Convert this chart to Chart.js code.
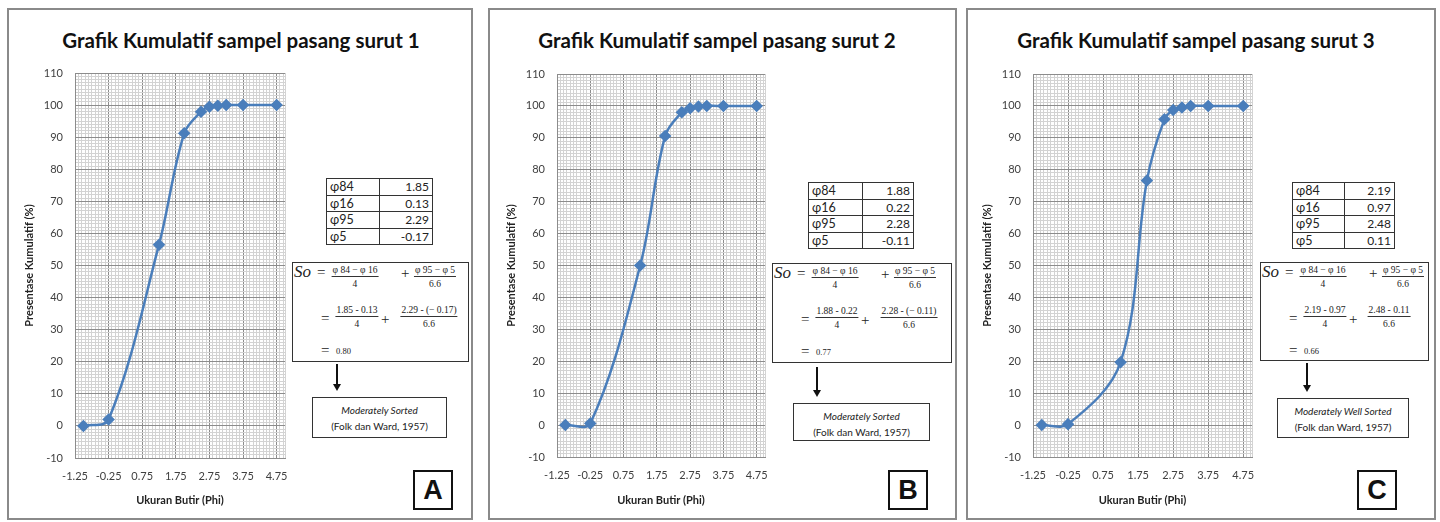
<!DOCTYPE html>
<html>
<head>
<meta charset="utf-8">
<script src="https://cdn.jsdelivr.net/npm/chart.js@4.4.0/dist/chart.umd.min.js"></script>
<style>
  body { margin:0; width:1440px; height:522px; background:#fff; position:relative; overflow:hidden;
         font-family: Lato, "Open Sans", sans-serif; color:#222; }
  .abs { position:absolute; white-space:nowrap; }
  .panel { position:absolute; border:2px solid #8a8a8a; box-sizing:border-box; }
  .title { position:absolute; font-weight:bold; font-size:20.5px; transform:translate(-50%,-50%); white-space:nowrap; color:#111; }
  table.phi { position:absolute; border-collapse:collapse; table-layout:fixed; font-size:12.5px; color:#222; }
  table.phi td { border:1.5px solid #333; padding:0 3px; line-height:15.5px; height:15.5px; }
  table.phi td.v { text-align:right; font-size:12px; }
  .fbox { position:absolute; border:1.5px solid #333; box-sizing:border-box; font-family:"Liberation Serif", serif; color:#222; }
  .frac { position:absolute; transform:translateX(-50%); text-align:center; font:9.5px/10px "Liberation Serif", serif; white-space:nowrap; }
  .frac .n { border-bottom:1px solid #333; padding:0 1px 1px; }
  .frac .d { padding-top:2px; }
  .sbox { position:absolute; border:1.5px solid #333; box-sizing:border-box; text-align:center; font-size:10px; line-height:16px; padding-top:4px; color:#222; }
  .letter { position:absolute; width:40px; height:40px; border:2px solid #111; box-sizing:border-box; text-align:center;
            font:bold 27px/36px "Liberation Sans", Arial, sans-serif; color:#111; }
</style>
</head>
<body>
<script>
// ---- data ----
const chartTitles = ['Grafik Kumulatif sampel pasang surut 1', 'Grafik Kumulatif sampel pasang surut 2', 'Grafik Kumulatif sampel pasang surut 3'];
const panelLetters = ['A', 'B', 'C'];
const xAxisTitle = 'Ukuran Butir (Phi)';
const yAxisTitle = 'Presentase Kumulatif (%)';

// grain size (phi) and cumulative percentage per sample
const phi  = [-1.0, -0.25, 1.25, 2.0, 2.5, 2.75, 3.0, 3.25, 3.75, 4.75];
const cumA = [0, 2.0, 56.5, 91.2, 97.9, 99.5, 99.8, 100, 100, 100];
const cumB = [0, 0.5, 50.0, 90.6, 98.0, 99.3, 99.8, 100, 100, 100];
const cumC = [0, 0.3, 19.7, 76.6, 95.8, 98.7, 99.5, 100, 100, 100];

const xMin = -1.25, xMax = 5.0;
const yMin = -10, yMax = 110;
const xTickLabels = ['-1.25', '-0.25', '0.75', '1.75', '2.75', '3.75', '4.75'];
const yTickLabels = ['-10', '0', '10', '20', '30', '40', '50', '60', '70', '80', '90', '100', '110'];

// percentile table + sorting result
const phiNames = ['φ84', 'φ16', 'φ95', 'φ5'];
const phiA = [1.85, 0.13, 2.29, -0.17];
const phiB = [1.88, 0.22, 2.28, -0.11];
const phiC = [2.19, 0.97, 2.48, 0.11];
const soValues = ['0.80', '0.77', '0.66'];
const sortClass = ['Moderately Sorted', 'Moderately Sorted', 'Moderately Well Sorted'];
const sortRef = '(Folk dan Ward, 1957)';

// ---- layout ----
const FONT = 'Lato, "Open Sans", sans-serif';
const MAJOR = '#8c8c8c', MINOR = '#d3d3d3', LINE = '#4a7ebb';

const panels = [
  { border: { l: 7, t: 8, r: 473, b: 520 }, titleX: 241,
    plot: { l: 75, r: 285, t: 73, b: 458 },
    table: { l: 326, t: 178, w: 107, c1: 53 },
    fbox: { l: 292, t: 262, w: 177, h: 100 },
    arrow: { x: 337, t: 364, b: 391 },
    sbox: { l: 312, t: 397, w: 135, h: 41 },
    letter: { l: 413, t: 470 } },
  { border: { l: 488, t: 8, r: 957, b: 520 }, titleX: 717,
    plot: { l: 557, r: 765, t: 74, b: 457 },
    table: { l: 808, t: 182, w: 106, c1: 54 },
    fbox: { l: 772, t: 263, w: 180, h: 100 },
    arrow: { x: 817, t: 367, b: 397 },
    sbox: { l: 793, t: 403, w: 137, h: 38 },
    letter: { l: 888, t: 470 } },
  { border: { l: 966, t: 8, r: 1436, b: 520 }, titleX: 1196,
    plot: { l: 1033, r: 1252, t: 74, b: 457 },
    table: { l: 1292, t: 182, w: 103, c1: 52 },
    fbox: { l: 1260, t: 262, w: 169, h: 99 },
    arrow: { x: 1307, t: 363, b: 392 },
    sbox: { l: 1277, t: 398, w: 132, h: 40 },
    letter: { l: 1357, t: 470 } },
];

// tick positions: labelled majors every 1 phi / 10 %, unlabelled minors between
const xTicks = [];
for (let i = 0; i * 0.1 <= xMax - xMin + 1e-9; i++) xTicks.push({ value: xMin + i * 0.1, major: i % 10 === 0, label: i % 10 === 0 ? xTickLabels[i / 10] : '' });
xTicks.push({ value: xMax, major: false, label: '' });
const yTicks = [];
for (let v = yMin; v <= yMax; v++) yTicks.push({ value: v, major: (v - yMin) % 10 === 0, label: (v - yMin) % 10 === 0 ? yTickLabels[(v - yMin) / 10] : '' });

function div(cls, css, text) {
  const d = document.createElement('div');
  d.className = cls;
  d.style.cssText = css;
  if (text != null) d.textContent = text;
  return d;
}

function drawChart(p, cum) {
  const padL = 65, padR = 10, top = 60, height = 452;
  const w = p.plot.r - p.plot.l + padL + padR;
  const canvas = document.createElement('canvas');
  canvas.width = w; canvas.height = height;
  canvas.style.cssText = `position:absolute;left:${p.plot.l - padL}px;top:${top}px;width:${w}px;height:${height}px`;
  document.body.appendChild(canvas);

  new Chart(canvas, {
    type: 'line',
    data: {
      datasets: [{
        data: phi.map((x, i) => ({ x, y: cum[i] })),
        borderColor: LINE, backgroundColor: LINE, borderWidth: 2.5,
        tension: 0.35, pointStyle: 'rectRot', pointRadius: 4.5,
        pointBackgroundColor: LINE, pointBorderColor: LINE,
      }],
    },
    options: {
      responsive: false, animation: false, devicePixelRatio: 1,
      layout: { padding: { top: p.plot.t - top, right: padR, left: 0, bottom: 0 } },
      plugins: { legend: { display: false }, tooltip: { enabled: false } },
      scales: {
        x: {
          type: 'linear', min: xMin, max: xMax,
          afterBuildTicks: (s) => { s.ticks = xTicks.map((t) => ({ value: t.value })); },
          afterFit: (s) => { s.height = top + height - p.plot.b; s.paddingLeft = 0; s.paddingRight = 0; },
          grid: { color: (c) => (xTicks[c.index] && xTicks[c.index].major ? MAJOR : MINOR), drawTicks: false },
          border: { color: MAJOR },
          ticks: { autoSkip: false, maxRotation: 0, padding: 12, color: '#404040', font: { size: 11, family: FONT },
                   callback: (v, i) => xTicks[i].label },
          title: { display: true, text: xAxisTitle, color: '#222', font: { size: 11, weight: 'bold', family: FONT }, padding: { top: 0, bottom: 5 } },
        },
        y: {
          min: yMin, max: yMax,
          afterBuildTicks: (s) => { s.ticks = yTicks.map((t) => ({ value: t.value })); },
          afterFit: (s) => { s.width = padL; s.paddingTop = 0; s.paddingBottom = 0; },
          grid: { color: (c) => (yTicks[c.index] && yTicks[c.index].major ? MAJOR : MINOR), drawTicks: false },
          border: { color: MAJOR },
          ticks: { autoSkip: false, padding: 12, color: '#404040', font: { size: 11, family: FONT },
                   callback: (v, i) => yTicks[i].label },
          title: { display: true, text: yAxisTitle, color: '#222', font: { size: 11, weight: 'bold', family: FONT }, padding: { top: 13, bottom: 0 } },
        },
      },
    },
  });
}

function fmt(v) { return v.toFixed(2); }

function drawNotes(p, vals, k) {
  const b = p.border;
  document.body.appendChild(div('panel', `left:${b.l}px;top:${b.t}px;width:${b.r - b.l}px;height:${b.b - b.t}px`));
  document.body.appendChild(div('title', `left:${p.titleX}px;top:40px`, chartTitles[k]));

  // percentile table
  const tb = document.createElement('table');
  tb.className = 'phi';
  tb.style.cssText = `left:${p.table.l}px;top:${p.table.t}px;width:${p.table.w}px`;
  tb.innerHTML = `<colgroup><col style="width:${p.table.c1}px"><col></colgroup>` +
    phiNames.map((n, i) => `<tr><td>${n}</td><td class="v">${fmt(vals[i])}</td></tr>`).join('');
  document.body.appendChild(tb);

  // sorting formula
  const f = p.fbox;
  const box = div('fbox', `left:${f.l}px;top:${f.t}px;width:${f.w}px;height:${f.h}px`);
  const put = (text, x, cy, css) => box.appendChild(div('abs', `left:${x}px;top:${cy}px;transform:translateY(-50%);${css || ''}`, text));
  const frac = (num, den, cx, top) => {
    const d = div('frac', `left:${cx}px;top:${top}px`);
    d.appendChild(div('n', '', num));
    d.appendChild(div('d', '', den));
    box.appendChild(d);
  };
  const op = 'font:15px "Liberation Serif",serif';
  put('So', 1, 9, 'font:italic 17px "Liberation Serif",serif');
  put('=', 24, 9, op);
  frac('φ 84 − φ 16', '4', 62, 2);
  put('+', 108, 10, op);
  frac('φ 95 − φ 5', '6.6', 142, 2);

  const p5 = vals[3] < 0 ? `(− ${fmt(-vals[3])})` : fmt(vals[3]);
  put('=', 28, 55, op);
  frac(`${fmt(vals[0])} - ${fmt(vals[1])}`, '4', 64, 42);
  put('+', 88, 56, op);
  frac(`${fmt(vals[2])} - ${p5}`, '6.6', vals[3] < 0 ? 136 : 128, 42);

  put('=', 28, 87, op);
  put(soValues[k], 43, 88, 'font:8.5px "Liberation Serif",serif');
  document.body.appendChild(box);

  // arrow
  const a = p.arrow;
  document.body.appendChild(div('abs', `left:${a.x - 0.75}px;top:${a.t}px;width:1.5px;height:${a.b - a.t - 6}px;background:#111`));
  document.body.appendChild(div('abs', `left:${a.x - 4}px;top:${a.b - 7}px;width:0;height:0;border-left:4px solid transparent;border-right:4px solid transparent;border-top:7px solid #111`));

  // classification box
  const s = p.sbox;
  const sb = div('sbox', `left:${s.l}px;top:${s.t}px;width:${s.w}px;height:${s.h}px`);
  sb.appendChild(div('', 'font-style:italic', sortClass[k]));
  sb.appendChild(div('', '', sortRef));
  document.body.appendChild(sb);

  document.body.appendChild(div('letter', `left:${p.letter.l}px;top:${p.letter.t}px`, panelLetters[k]));
}

const cums = [cumA, cumB, cumC];
const phis = [phiA, phiB, phiC];
panels.forEach((p, k) => {
  drawNotes(p, phis[k], k);
  drawChart(p, cums[k]);
});
</script>
</body>
</html>
